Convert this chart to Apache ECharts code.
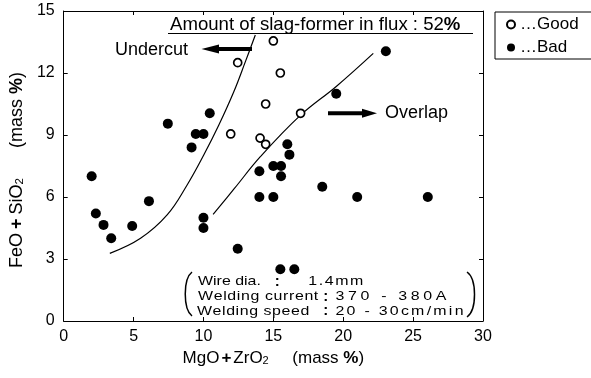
<!DOCTYPE html>
<html>
<head>
<meta charset="utf-8">
<script src="https://cdn.jsdelivr.net/npm/echarts@6/dist/echarts.min.js"></script>
<style>
  html, body { margin: 0; padding: 0; background: #fff; }
  #chart { width: 591px; height: 378px; }
</style>
</head>
<body>
<div id="chart"></div>
<script>
// Axis ticks (mass %)
const xTickValues = [0, 5, 10, 15, 20, 25, 30];
const yTickValues = [0, 3, 6, 9, 12, 15];

// Bead appearance results: [MgO + ZrO2, FeO + SiO2]
const goodPoints = [
  [12.45, 12.5], [15.0, 13.55], [15.5, 12.0], [14.45, 10.5],
  [11.95, 9.05], [14.05, 8.85], [14.45, 8.55], [16.95, 10.05]
];
const badPoints = [
  [2.0, 7.0], [2.3, 5.2], [2.85, 4.65], [3.4, 4.0], [4.9, 4.6], [6.1, 5.8],
  [7.45, 9.55], [9.15, 8.4], [9.45, 9.05], [10.0, 9.05], [10.45, 10.05],
  [10.0, 5.0], [10.0, 4.5], [12.45, 3.5], [14.0, 7.25], [15.0, 7.5],
  [15.55, 7.5], [15.55, 7.0], [16.0, 8.55], [16.15, 8.05], [14.0, 6.0],
  [15.0, 6.0], [15.5, 2.5], [16.5, 2.5], [18.5, 6.5], [19.5, 11.0],
  [21.0, 6.0], [23.05, 13.05], [26.05, 6.0]
];

// Boundary curves of the sound-bead region
const undercutCurve = [
  [3.3, 3.27], [5.5, 4.0], [7.4, 5.13], [8.83, 6.58], [10.02, 8.03],
  [11.1, 9.48], [12.17, 11.09], [13.0, 12.55], [13.71, 13.84]
];
const overlapCurve = [
  [10.69, 5.16], [12.2, 6.4], [14.07, 7.95], [16.93, 9.95], [19.5, 11.35], [22.15, 12.95]
];

const FONT = '"Liberation Sans", Arial, Helvetica, sans-serif';
const BOX_SIZE = 13.5;
const BOX_STRETCH = 1.18;   // the conditions box uses a wide, loosely tracked face
const BLACK = '#000';

// Welding conditions box: text spread to the widths used on the figure
const measureCtx = document.createElement('canvas').getContext('2d');
let spreadId = 0;
function spreadText(str, size, targetWidth) {
  measureCtx.font = size + 'px ' + FONT;
  const w = measureCtx.measureText(str).width;
  const gap = Math.max(0, (targetWidth - w) / (str.length - 1));
  const key = 'k' + (spreadId++);
  const last = key + 'e';
  const chars = str.split('');
  const text = chars.map((ch, i) => '{' + (i === chars.length - 1 ? last : key) + '|' + ch + '}').join('');
  const rich = {};
  rich[key] = { fontSize: size, fontFamily: FONT, color: BLACK, padding: [0, gap, 0, 0] };
  rich[last] = { fontSize: size, fontFamily: FONT, color: BLACK };
  return { text, rich };
}

function spreadLabel(str, x, y, targetWidth) {
  const s = spreadText(str, BOX_SIZE, targetWidth / BOX_STRETCH);
  return {
    type: 'text', x: x, y: y, z: 10, scaleX: BOX_STRETCH,
    style: { text: s.text, rich: s.rich, fontSize: BOX_SIZE, fontFamily: FONT, fill: BLACK,
             align: 'left', verticalAlign: 'middle' }
  };
}
function colon(x, y) {
  return {
    type: 'text', x: x, y: y, z: 10,
    style: { text: ':', fontSize: 15, fontWeight: 'bold', fontFamily: FONT, fill: BLACK,
             align: 'center', verticalAlign: 'middle' }
  };
}

const row1 = 281.7, row2 = 296.7, row3 = 311.3;

const graphics = [
  // heading with underline
  {
    type: 'text', x: 170, y: 25, z: 10,
    style: {
      text: '{n|Amount of slag-former in flux : 52}{b|%}',
      rich: {
        n: { fontSize: 18.6, fontFamily: FONT, color: BLACK },
        b: { fontSize: 18.6, fontFamily: FONT, color: BLACK, fontWeight: 'bold' }
      },
      align: 'left', verticalAlign: 'middle'
    }
  },
  { type: 'line', z: 10, shape: { x1: 168, y1: 33.5, x2: 473, y2: 33.5 }, style: { stroke: BLACK, lineWidth: 1 } },

  // Undercut side
  {
    type: 'text', x: 115, y: 50, z: 10,
    style: { text: 'Undercut', fontSize: 18, fontFamily: FONT, fill: BLACK, align: 'left', verticalAlign: 'middle' }
  },
  { type: 'rect', z: 10, shape: { x: 217, y: 47, width: 35, height: 4 }, style: { fill: BLACK } },
  { type: 'polygon', z: 10, shape: { points: [[201.5, 49], [219, 44.5], [219, 53.5]] }, style: { fill: BLACK } },

  // Overlap side
  { type: 'rect', z: 10, shape: { x: 328, y: 111.3, width: 36, height: 4 }, style: { fill: BLACK } },
  { type: 'polygon', z: 10, shape: { points: [[377, 113.3], [362, 108.8], [362, 117.8]] }, style: { fill: BLACK } },
  {
    type: 'text', x: 385, y: 113.5, z: 10,
    style: { text: 'Overlap', fontSize: 18, fontFamily: FONT, fill: BLACK, align: 'left', verticalAlign: 'middle' }
  },

  // welding conditions
  spreadLabel('Wire dia.', 198, row1, 61),
  colon(277.3, row1),
  spreadLabel('1.4mm', 308.3, row1, 55),
  spreadLabel('Welding current', 198, row2, 120),
  colon(325.8, row2),
  spreadLabel('370 - 380A', 335.5, row2, 111),
  spreadLabel('Welding speed', 197, row3, 112),
  colon(325.8, row3),
  spreadLabel('20 - 30cm/min', 335.5, row3, 128),
  {
    type: 'bezierCurve', z: 10,
    shape: { x1: 192, y1: 272, cpx1: 183, cpy1: 279, cpx2: 183, cpy2: 309, x2: 192, y2: 316 },
    style: { stroke: BLACK, lineWidth: 1.5, fill: null }
  },
  {
    type: 'bezierCurve', z: 10,
    shape: { x1: 467, y1: 272, cpx1: 477, cpy1: 279, cpx2: 477, cpy2: 310, x2: 467, y2: 317 },
    style: { stroke: BLACK, lineWidth: 1.5, fill: null }
  }
];

const xNameRich = {
  n: { fontSize: 17, fontFamily: FONT, color: BLACK },
  b: { fontSize: 17, fontFamily: FONT, color: BLACK, fontWeight: 'bold', padding: [0, 2, 0, 2] },
  p: { fontSize: 17, fontFamily: FONT, color: BLACK, fontWeight: 'bold' },
  s: { fontSize: 11, fontFamily: FONT, color: BLACK, verticalAlign: 'bottom' }
};
const yNameRich = {
  n: { fontSize: 18, fontFamily: FONT, color: BLACK },
  b: { fontSize: 18, fontFamily: FONT, color: BLACK, fontWeight: 'bold', padding: [0, 4, 0, 4] },
  p: { fontSize: 18, fontFamily: FONT, color: BLACK, fontWeight: 'bold' },
  s: { fontSize: 11.5, fontFamily: FONT, color: BLACK, verticalAlign: 'bottom' }
};

function valueAxis(ticks, position, showLabels, extra) {
  return Object.assign({
    type: 'value',
    position: position,
    min: ticks[0],
    max: ticks[ticks.length - 1],
    interval: ticks[1] - ticks[0],
    axisLine: { show: true, onZero: false, lineStyle: { color: BLACK, width: 1 } },
    axisTick: { show: true, inside: true, length: 4, lineStyle: { color: BLACK, width: 1 } },
    axisLabel: { show: showLabels, color: BLACK, fontSize: 16, fontFamily: FONT },
    splitLine: { show: false }
  }, extra || {});
}

const chart = echarts.init(document.getElementById('chart'), null, { renderer: 'canvas' });
chart.setOption({
  animation: false,
  backgroundColor: '#fff',
  grid: { left: 63, right: 108, top: 11, bottom: 57 },
  xAxis: [
    valueAxis(xTickValues, 'bottom', true, {
      name: '{n|MgO}{b|+}{n|ZrO}{s|2}{n|     (mass }{p|%}{n|)}',
      nameLocation: 'middle',
      nameGap: 27,
      nameTextStyle: { rich: xNameRich },
      axisLabel: { show: true, color: BLACK, fontSize: 16, fontFamily: FONT, margin: 8 }
    }),
    valueAxis(xTickValues, 'top', false)
  ],
  yAxis: [
    valueAxis(yTickValues, 'left', true, {
      name: '{n|FeO}{b|+}{n|SiO}{s|2}{n|      (mass }{p|%}{n|)}',
      nameLocation: 'middle',
      nameGap: 35,
      nameTextStyle: { rich: yNameRich, padding: [0, 8, 0, 0] },
      axisLabel: { show: true, color: BLACK, fontSize: 16, fontFamily: FONT, margin: 9 }
    }),
    valueAxis(yTickValues, 'right', false)
  ],
  legend: {
    data: ['Good', 'Bad'],
    orient: 'vertical',
    left: 495,
    top: 12,
    padding: [4, 90, 3, 11],
    itemWidth: 8,
    itemHeight: 8,
    itemGap: 6,
    borderColor: BLACK,
    borderWidth: 1,
    borderRadius: 0,
    formatter: name => '\u2026' + name,
    textStyle: { fontSize: 17, color: BLACK, fontFamily: FONT }
  },
  graphic: graphics,
  series: [
    {
      name: 'Undercut boundary', type: 'line', data: undercutCurve, smooth: 0.4,
      showSymbol: false, silent: true, lineStyle: { color: BLACK, width: 1.2 }, z: 1
    },
    {
      name: 'Overlap boundary', type: 'line', data: overlapCurve, smooth: 0.4,
      showSymbol: false, silent: true, lineStyle: { color: BLACK, width: 1.2 }, z: 1
    },
    {
      name: 'Good', type: 'scatter', data: goodPoints, symbol: 'circle', symbolSize: 8,
      itemStyle: { color: '#fff', borderColor: BLACK, borderWidth: 1.7, opacity: 1 }, z: 3
    },
    {
      name: 'Bad', type: 'scatter', data: badPoints, symbol: 'circle', symbolSize: 10,
      itemStyle: { color: BLACK, opacity: 1 }, z: 3
    }
  ]
});
</script>
</body>
</html>
